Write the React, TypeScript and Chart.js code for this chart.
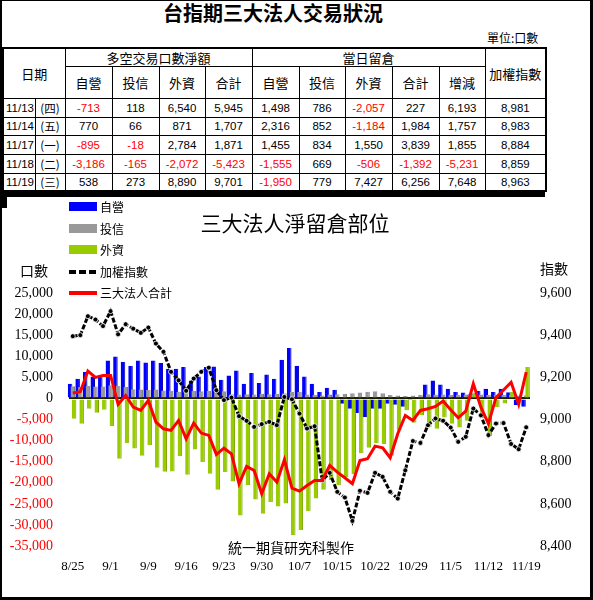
import React, { useEffect, useRef } from 'react';
import { Chart, registerables } from 'chart.js';

Chart.register(...registerables);

// ---------- chart data ----------
const dates = [
  '8/25', '8/26', '8/27', '8/28', '8/29', '9/1', '9/2', '9/3', '9/4', '9/5',
  '9/9', '9/10', '9/11', '9/12', '9/15', '9/16', '9/17', '9/18', '9/19', '9/22',
  '9/23', '9/24', '9/25', '9/26', '9/29', '9/30', '10/1', '10/2', '10/3', '10/6',
  '10/7', '10/8', '10/9', '10/13', '10/14', '10/15', '10/16', '10/17', '10/20', '10/21',
  '10/22', '10/23', '10/24', '10/27', '10/28', '10/29', '10/30', '10/31', '11/3', '11/4',
  '11/5', '11/6', '11/7', '11/10', '11/11', '11/12', '11/13', '11/14', '11/17', '11/18',
  '11/19',
];

// 自營
const dealers = [
  3480, 4670, 6250, 5220, 5460, 9010, 9960, 8620, 7670, 9010,
  8540, 9010, 8380, 7040, 7040, 7430, 4270, 5220, 7430, 7590,
  4430, 5460, 6640, 3480, 6010, 3640, 5690, 4670, 9170, 11940,
  7750, 5220, 3480, 1500, 2530, 2060, -1270, -2450, -3480, -4430,
  -2450, -2450, -1270, -1500, -2000, -400, 320, 3320, 4270, 3320,
  2290, 1500, 1420, 1110, 1740, 2290, 1498, 2316, 1455, -1555,
  -1950,
];

// 投信
const trusts = [
  2900, 2700, 3000, 2800, 2800, 3100, 3000, 2700, 2200, 2100,
  2000, 2100, 1900, 1800, 1600, 1700, 1750, 1700, 1800, 1700,
  1700, 1000, 900, 1000, 900, 1100, 1000, 1100, 1200, 1600,
  1500, 900, 800, 700, 900, 1000, 1100, 1200, 1400, 1600,
  1700, 1200, 800, 700, 600, 700, 800, 1000, 900, 900,
  800, 800, 900, 1000, 900, 850, 786, 852, 834, 669,
  779,
];

// 外資
const foreign = [
  -4820, -6010, -2450, -3400, -2690, -6560, -14310, -10600, -11860, -13600,
  -11070, -16450, -17400, -17320, -13680, -18110, -12100, -15100, -17870, -21670,
  -17470, -19700, -27780, -20610, -23990, -27350, -24560, -25610, -24920, -32400,
  -31230, -26760, -23730, -21650, -19320, -20530, -18650, -18000, -13000, -11700,
  -10560, -10800, -13600, -7500, -2800, -5800, -4000, -6800, -7200, -4500,
  -6000, -6900, -5300, 1300, -4700, -9000, -2057, -1184, 1550, -506,
  7427,
];

// 三大法人合計
const total = [
  1300, 1600, 6500, 5000, 5460, 5460, -1420, 710, -2060, -2850,
  -470, -5610, -7200, -7590, -5220, -9570, -5850, -8220, -8780, -13280,
  -11800, -13130, -20240, -16130, -17080, -22610, -17870, -19850, -14550, -21270,
  -21980, -20640, -19450, -19450, -15890, -17470, -18820, -20240, -14710, -14310,
  -11310, -11700, -14070, -8380, -4030, -5220, -2850, -2450, -1900, -630,
  -2690, -4590, -3010, 3480, -2060, -6010, 227, 1984, 3839, -1392,
  6256,
];

// 加權指數
const taiex = [
  9395, 9400, 9490, 9474, 9443, 9514, 9404, 9452, 9431, 9411,
  9436, 9360, 9321, 9226, 9186, 9136, 9194, 9226, 9246, 9139,
  9092, 9104, 9016, 8994, 8965, 8978, 8989, 8973, 9107, 9096,
  9028, 8957, 8968, 8712, 8747, 8657, 8630, 8519, 8662, 8652,
  8747, 8728, 8657, 8625, 8759, 8898, 8889, 8973, 9005, 8994,
  8962, 8894, 8918, 9052, 9020, 8926, 8981, 8983, 8884, 8859,
  8963,
];

const leftMin = -35000;
const leftMax = 25000;
const leftStep = 5000;
const rightMin = 8400;
const rightMax = 9600;
const rightStep = 200;
const labelEvery = 5;

// ---------- table data ----------
const tableDates = ['11/13', '11/14', '11/17', '11/18', '11/19'];
const tableWeekdays = ['(四)', '(五)', '(一)', '(二)', '(三)'];
const netDealer = [-713, 770, -895, -3186, 538];
const netTrust = [118, 66, -18, -165, 273];
const netForeign = [6540, 871, 2784, -2072, 8890];
const netTotal = [5945, 1707, 1871, -5423, 9701];
const oiDealer = [1498, 2316, 1455, -1555, -1950];
const oiTrust = [786, 852, 834, 669, 779];
const oiForeign = [-2057, -1184, 1550, -506, 7427];
const oiTotal = [227, 1984, 3839, -1392, 6256];
const oiChange = [6193, 1757, 1855, -5231, 7648];
const indexClose = [8981, 8983, 8884, 8859, 8963];

const netHeaders = ['自營', '投信', '外資', '合計'];
const oiHeaders = ['自營', '投信', '外資', '合計', '增減'];

// ---------- styles ----------
const CJK = '"Noto Sans CJK TC", "Noto Sans CJK SC", sans-serif';
const NUM = '"Liberation Sans", "Noto Sans CJK TC", sans-serif';
const SERIF = '"Liberation Serif", "Times New Roman", serif';
const BLUE = '#0000FF';
const GRAY = '#999999';
const GREEN = '#99CC00';
const RED = '#FF0000';

// horizontal dodge (px) for the overlapping bar series, by dataset index
const barDodge: Record<number, number> = { 0: -2.7, 1: 0, 2: 1.3 };

const dodgePlugin = {
  id: 'dodge',
  beforeDatasetDraw(chart: any, args: any) {
    const s = barDodge[args.index];
    if (s !== undefined) {
      chart.ctx.save();
      chart.ctx.translate(s, 0);
    }
  },
  afterDatasetDraw(chart: any, args: any) {
    if (barDodge[args.index] !== undefined) chart.ctx.restore();
  },
};

const fmt = (v: number) => v.toLocaleString('en-US');

const colWidths = [32, 30, 47, 47, 46, 47, 47, 46, 47, 47, 46, 61];
const rowHeights = [19, 18, 19, 19, 18];

function NumCell({ v }: { v: number }) {
  return (
    <td
      style={{
        border: '1px solid #000',
        textAlign: 'center',
        color: v < 0 ? RED : '#000',
        fontFamily: NUM,
        fontSize: 11.5,
        padding: 0,
      }}
    >
      {fmt(v)}
    </td>
  );
}

function DataTable() {
  const th: React.CSSProperties = {
    border: '1px solid #000',
    fontFamily: CJK,
    fontSize: 13,
    fontWeight: 400,
    padding: 0,
    textAlign: 'center',
    lineHeight: '15px',
  };
  return (
    <table
      style={{
        position: 'absolute',
        left: 2,
        top: 47,
        width: 543,
        height: 143,
        borderCollapse: 'collapse',
        tableLayout: 'fixed',
        border: '2px solid #000',
        background: '#fff',
      }}
    >
      <colgroup>
        {colWidths.map((w, i) => (
          <col key={i} style={{ width: w }} />
        ))}
      </colgroup>
      <tbody>
        <tr style={{ height: 18 }}>
          <th colSpan={2} rowSpan={2} style={th}>日期</th>
          <th colSpan={4} style={th}>多空交易口數淨額</th>
          <th colSpan={5} style={th}>當日留倉</th>
          <th rowSpan={2} style={th}>加權指數</th>
        </tr>
        <tr style={{ height: 32 }}>
          {netHeaders.map((h, i) => (
            <th key={'n' + i} style={th}>{h}</th>
          ))}
          {oiHeaders.map((h, i) => (
            <th key={'o' + i} style={th}>{h}</th>
          ))}
        </tr>
        {tableDates.map((d, r) => (
          <tr key={d} style={{ height: rowHeights[r] }}>
            <td style={{ border: '1px solid #000', fontFamily: NUM, fontSize: 11.5, padding: '0 0 0 2px', whiteSpace: 'nowrap' }}>{d}</td>
            <td style={{ border: '1px solid #000', fontFamily: CJK, fontSize: 11.5, padding: 0, textAlign: 'center', whiteSpace: 'nowrap' }}>{tableWeekdays[r]}</td>
            <NumCell v={netDealer[r]} />
            <NumCell v={netTrust[r]} />
            <NumCell v={netForeign[r]} />
            <NumCell v={netTotal[r]} />
            <NumCell v={oiDealer[r]} />
            <NumCell v={oiTrust[r]} />
            <NumCell v={oiForeign[r]} />
            <NumCell v={oiTotal[r]} />
            <NumCell v={oiChange[r]} />
            <NumCell v={indexClose[r]} />
          </tr>
        ))}
      </tbody>
    </table>
  );
}

const legendItems = [
  { label: '自營', kind: 'box', color: BLUE, y: 207 },
  { label: '投信', kind: 'box', color: GRAY, y: 229 },
  { label: '外資', kind: 'box', color: GREEN, y: 250 },
  { label: '加權指數', kind: 'dash', color: '#000', y: 272 },
  { label: '三大法人合計', kind: 'line', color: RED, y: 293 },
];

export default function App() {
  const canvasRef = useRef<HTMLCanvasElement | null>(null);

  useEffect(() => {
    document.body.style.margin = '0';
    const canvas = canvasRef.current;
    if (!canvas) return;
    const barCommon = {
      type: 'bar' as const,
      yAxisID: 'y',
      grouped: false,
      categoryPercentage: 1,
      barPercentage: 0.6,
      borderSkipped: false,
    };
    const chart = new Chart(canvas, {
      type: 'bar',
      data: {
        labels: dates,
        datasets: [
          { ...barCommon, label: '自營', data: dealers, backgroundColor: BLUE, borderColor: '#0000B0', borderWidth: { right: 1, left: 0, top: 0, bottom: 0 }, order: 5 },
          { ...barCommon, label: '投信', data: trusts, backgroundColor: GRAY, borderColor: '#767676', borderWidth: { right: 1, left: 0, top: 0, bottom: 0 }, order: 4 },
          { ...barCommon, label: '外資', data: foreign, backgroundColor: GREEN, borderColor: '#7AA300', borderWidth: { right: 1, left: 0, top: 0, bottom: 0 }, order: 3 },
          {
            type: 'line',
            label: '加權指數',
            data: taiex,
            yAxisID: 'y2',
            borderColor: '#000',
            borderWidth: 3,
            borderDash: [5, 2],
            pointRadius: 2.5,
            pointBackgroundColor: '#000',
            pointBorderColor: '#fff',
            pointBorderWidth: 0.8,
            tension: 0,
            order: 2,
          },
          {
            type: 'line',
            label: '三大法人合計',
            data: total,
            yAxisID: 'y',
            borderColor: RED,
            borderWidth: 3,
            pointRadius: 0,
            tension: 0,
            order: 1,
          },
        ] as any,
      },
      options: {
        animation: false,
        responsive: false,
        events: [],
        layout: { padding: { top: 96, left: 0, right: 0, bottom: 0 } },
        plugins: {
          legend: { display: false },
          tooltip: { enabled: false },
          title: { display: false },
        },
        scales: {
          x: {
            offset: true,
            grid: { display: false, drawTicks: false },
            border: { display: false },
            ticks: {
              autoSkip: false,
              maxRotation: 0,
              minRotation: 0,
              padding: 13,
              color: '#000',
              font: { family: SERIF, size: 13 },
              callback: (_v: any, i: number) => (i % labelEvery === 0 ? dates[i] : ''),
            },
            afterFit: (s: any) => {
              s.height = 51;
            },
          },
          y: {
            position: 'left',
            min: leftMin,
            max: leftMax,
            border: { display: false },
            grid: {
              drawTicks: false,
              lineWidth: 2,
              color: (ctx: any) => (ctx.tick && ctx.tick.value === 0 ? '#1c1c00' : 'rgba(0,0,0,0)'),
            },
            ticks: {
              stepSize: leftStep,
              padding: 16,
              font: { family: SERIF, size: 14 },
              color: (ctx: any) => (ctx.tick && ctx.tick.value < 0 ? RED : '#000'),
              callback: (v: any) => fmt(Number(v)),
            },
            afterFit: (s: any) => {
              s.width = 69;
            },
          },
          y2: {
            position: 'right',
            min: rightMin,
            max: rightMax,
            border: { display: false },
            grid: { display: false, drawTicks: false },
            ticks: {
              stepSize: rightStep,
              padding: 10,
              font: { family: SERIF, size: 14 },
              color: '#000',
              callback: (v: any) => fmt(Number(v)),
            },
            afterFit: (s: any) => {
              s.width = 63;
            },
          },
        },
      } as any,
      plugins: [dodgePlugin],
    });
    return () => chart.destroy();
  }, []);

  return (
    <div
      style={{
        position: 'absolute',
        left: 0,
        top: 0,
        width: 593,
        height: 600,
        background: '#fff',
        overflow: 'hidden',
        fontFamily: CJK,
        color: '#000',
      }}
    >
      {/* main title */}
      <div style={{ position: 'absolute', left: 0, top: 1, width: 546, textAlign: 'center', fontSize: 20, fontWeight: 700, lineHeight: '24px' }}>
        台指期三大法人交易狀況
      </div>
      <div style={{ position: 'absolute', left: 487, top: 30, fontSize: 12, lineHeight: '16px', whiteSpace: 'nowrap' }}>
        單位:口數
      </div>

      <DataTable />

      {/* heavy bar under the table */}
      <div style={{ position: 'absolute', left: 0, top: 190, width: 545, height: 7, background: '#000' }} />
      <div style={{ position: 'absolute', left: 0, top: 190, width: 7, height: 18, background: '#000' }} />

      {/* chart */}
      <canvas
        ref={canvasRef}
        width={593}
        height={400}
        style={{ position: 'absolute', left: 0, top: 197, width: 593, height: 400 }}
      />

      {/* chart title */}
      <div style={{ position: 'absolute', left: 150, top: 209, width: 290, textAlign: 'center', fontSize: 21, lineHeight: '26px' }}>
        三大法人淨留倉部位
      </div>

      {/* legend */}
      {legendItems.map((it) => (
        <React.Fragment key={it.label}>
          {it.kind === 'box' && (
            <div style={{ position: 'absolute', left: 69, top: it.y - 5, width: 28, height: 9, background: it.color }} />
          )}
          {it.kind === 'line' && (
            <div style={{ position: 'absolute', left: 69, top: it.y - 2, width: 28, height: 4, background: it.color }} />
          )}
          {it.kind === 'dash' && (
            <div
              style={{
                position: 'absolute',
                left: 69,
                top: it.y - 2,
                width: 28,
                height: 4,
                background: 'repeating-linear-gradient(90deg, #000 0px, #000 7px, transparent 7px, transparent 10px)',
              }}
            />
          )}
          <div style={{ position: 'absolute', left: 100, top: it.y - 9, fontSize: 12, lineHeight: '18px', whiteSpace: 'nowrap' }}>
            {it.label}
          </div>
        </React.Fragment>
      ))}

      {/* axis titles */}
      <div style={{ position: 'absolute', left: 20, top: 260, fontSize: 14, lineHeight: '20px' }}>口數</div>
      <div style={{ position: 'absolute', left: 540, top: 258, fontSize: 14, lineHeight: '20px' }}>指數</div>

      {/* watermark */}
      <div style={{ position: 'absolute', left: 191, top: 538, width: 200, textAlign: 'center', fontSize: 14, lineHeight: '18px' }}>
        統一期貨研究科製作
      </div>

      {/* outer frame */}
      <div
        style={{
          position: 'absolute',
          left: 0,
          top: 0,
          width: 593,
          height: 600,
          boxSizing: 'border-box',
          borderLeft: '2px solid #000',
          borderTop: '1px solid #000',
          borderRight: '3px solid #000',
          borderBottom: '3px solid #000',
          pointerEvents: 'none',
        }}
      />
    </div>
  );
}
